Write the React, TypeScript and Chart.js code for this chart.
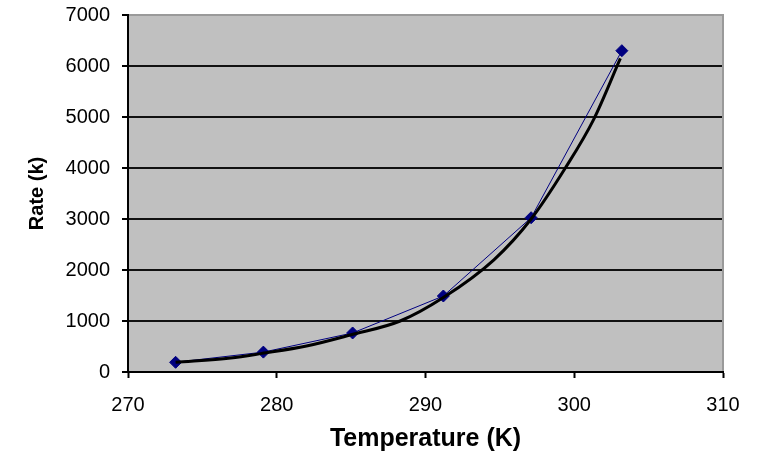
import React, { useEffect, useRef } from 'react';
import { Chart, registerables } from 'chart.js';

Chart.register(...registerables);

const temperatures = [273.2, 279.1, 285.1, 291.2, 297.1, 303.2];
const rates = [190, 390, 765, 1490, 3025, 6300];

const trendTemps = [273.2, 276.9, 279.0, 282.0, 285.0, 288.3, 291.2, 294.6, 297.1, 299.4, 301.3, 303.1];
const trendRates = [190, 275, 365, 510, 730, 1000, 1460, 2200, 3000, 4000, 4950, 6150];

const xMin = 270;
const xMax = 310;
const xStep = 10;
const yMin = 0;
const yMax = 7000;
const yStep = 1000;

const xTitle = 'Temperature (K)';
const yTitle = 'Rate (k)';

const FONT = '"Liberation Sans", Arial, sans-serif';

const plotDecor = {
  id: 'plotDecor',
  beforeDraw(chart: any) {
    const { ctx, chartArea } = chart;
    ctx.save();
    ctx.fillStyle = '#c0c0c0';
    ctx.fillRect(chartArea.left, chartArea.top, chartArea.right - chartArea.left, chartArea.bottom - chartArea.top);
    ctx.restore();
  },
  afterDraw(chart: any) {
    const { ctx, chartArea } = chart;
    ctx.save();
    ctx.strokeStyle = '#9a9a9a';
    ctx.lineWidth = 2;
    ctx.beginPath();
    ctx.moveTo(chartArea.left + 1, chartArea.top);
    ctx.lineTo(chartArea.right, chartArea.top);
    ctx.lineTo(chartArea.right, chartArea.bottom - 1);
    ctx.stroke();
    ctx.restore();
  },
};

export default function App() {
  const ref = useRef<HTMLCanvasElement | null>(null);

  useEffect(() => {
    if (!ref.current) return;
    const chart = new Chart(ref.current, {
      type: 'scatter',
      data: {
        datasets: [
          {
            label: 'Trend',
            data: trendTemps.map((t, i) => ({ x: t, y: trendRates[i] })),
            showLine: true,
            borderColor: '#000000',
            borderWidth: 3,
            pointRadius: 0,
            cubicInterpolationMode: 'monotone',
            order: 0,
          } as any,
          {
            label: 'Rate',
            data: temperatures.map((t, i) => ({ x: t, y: rates[i] })),
            showLine: true,
            borderColor: '#000080',
            borderWidth: 1,
            pointStyle: 'rectRot',
            pointRadius: 6,
            pointBackgroundColor: '#000080',
            pointBorderColor: '#000080',
            order: 1,
          } as any,
        ],
      },
      options: {
        responsive: false,
        animation: false,
        layout: { padding: { top: 15, right: 36, left: 0, bottom: 0 } },
        plugins: {
          legend: { display: false },
          tooltip: { enabled: false },
        },
        scales: {
          x: {
            type: 'linear',
            min: xMin,
            max: xMax,
            ticks: {
              stepSize: xStep,
              color: '#000',
              font: { family: FONT, size: 20 },
              padding: 15,
              maxRotation: 0,
              callback: (v: any) => String(v),
            },
            grid: {
              drawOnChartArea: false,
              drawTicks: true,
              tickLength: 6,
              tickColor: '#000',
              tickWidth: 2,
            },
            border: { display: true, color: '#000', width: 2 },
            title: {
              display: true,
              text: xTitle,
              color: '#000',
              font: { family: FONT, size: 25, weight: 'bold' },
              padding: { top: 0, bottom: 1 },
            },
            afterFit: (scale: any) => {
              scale.height = 83;
              scale.paddingRight = 0;
              scale.paddingLeft = 0;
            },
          },
          y: {
            type: 'linear',
            min: yMin,
            max: yMax,
            ticks: {
              stepSize: yStep,
              color: '#000',
              font: { family: FONT, size: 20 },
              padding: 12,
              callback: (v: any) => String(v),
            },
            grid: {
              color: '#111',
              lineWidth: 2,
              drawTicks: true,
              tickLength: 6,
              tickColor: '#000',
              tickWidth: 2,
            },
            border: { display: true, color: '#000', width: 2 },
            title: {
              display: true,
              text: yTitle,
              color: '#000',
              font: { family: FONT, size: 20, weight: 'bold' },
              padding: { top: 25, bottom: 0 },
            },
            afterFit: (scale: any) => {
              scale.width = 128;
              scale.paddingTop = 0;
              scale.paddingBottom = 0;
            },
          },
        },
      },
      plugins: [plotDecor],
    });
    return () => chart.destroy();
  }, []);

  return (
    <div style={{ position: 'absolute', left: 0, top: 0, width: 759, height: 455, background: '#fff' }}>
      <canvas ref={ref} width={759} height={455} style={{ display: 'block' }} />
    </div>
  );
}
